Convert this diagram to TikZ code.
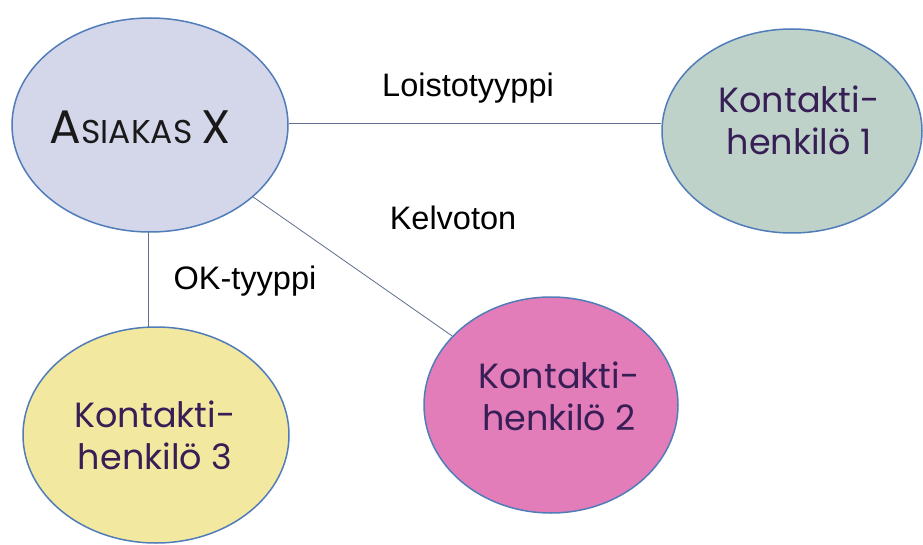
\documentclass[tikz,border=0pt]{standalone}
\usepackage{fontspec}
\setmainfont{Liberation Sans}
\newfontfamily\geo{Poppins}
\begin{document}
\begin{tikzpicture}[x=1pt,y=-1pt,
  bub/.style={ellipse, draw=edgeblue, line width=1.5pt, inner sep=0pt},
  conn/.style={draw=linegray, line width=0.8pt},
  lab/.style={font=\fontsize{32.5}{36}\selectfont, text=black},
  ktext/.style={font=\geo\fontsize{35}{42}\selectfont, text=ktxt, align=center}]
\usetikzlibrary{shapes.geometric}
\definecolor{edgeblue}{RGB}{80,125,185}
\definecolor{linegray}{RGB}{95,110,140}
\definecolor{fillA}{RGB}{212,214,234}
\definecolor{fillB}{RGB}{190,210,202}
\definecolor{fillC}{RGB}{226,125,186}
\definecolor{fillD}{RGB}{243,232,160}
\definecolor{ktxt}{RGB}{55,30,85}
\useasboundingbox (0,0) rectangle (923,545);
\fill[white] (0,0) rectangle (923,545);
\node[bub, fill=fillA, minimum width=276pt, minimum height=214pt] (A) at (150,125) {};
\node[bub, fill=fillB, minimum width=260pt, minimum height=204pt] (K1) at (792,131) {};
\node[bub, fill=fillC, minimum width=254pt, minimum height=216pt] (K2) at (551,405) {};
\node[bub, fill=fillD, minimum width=266pt, minimum height=216pt] (K3) at (156,435) {};
\node[font=\geo, text=black!90] (At) at (140,127) {\fontsize{47}{50}\selectfont A\fontsize{33}{36}\selectfont SIAKAS \fontsize{47}{50}\selectfont X};
\node[ktext] (K1t) at (799,120) {Kontakti-\\henkilö 1};
\node[ktext] (K2t) at (559,396) {Kontakti-\\henkilö 2};
\node[ktext] (K3t) at (155,435) {Kontakti-\\henkilö 3};
\path[conn] (A.east |- 0,123) -- (K1.west |- 0,123);
\path[conn] (A) -- (K2);
\draw[conn] (148,232) -- (148,327);
\node[lab] (L1) at (468,88) {Loistotyyppi};
\node[lab] (L2) at (453,218) {Kelvoton};
\node[lab] (L3) at (245,281) {OK-tyyppi};
\end{tikzpicture}
\end{document}
